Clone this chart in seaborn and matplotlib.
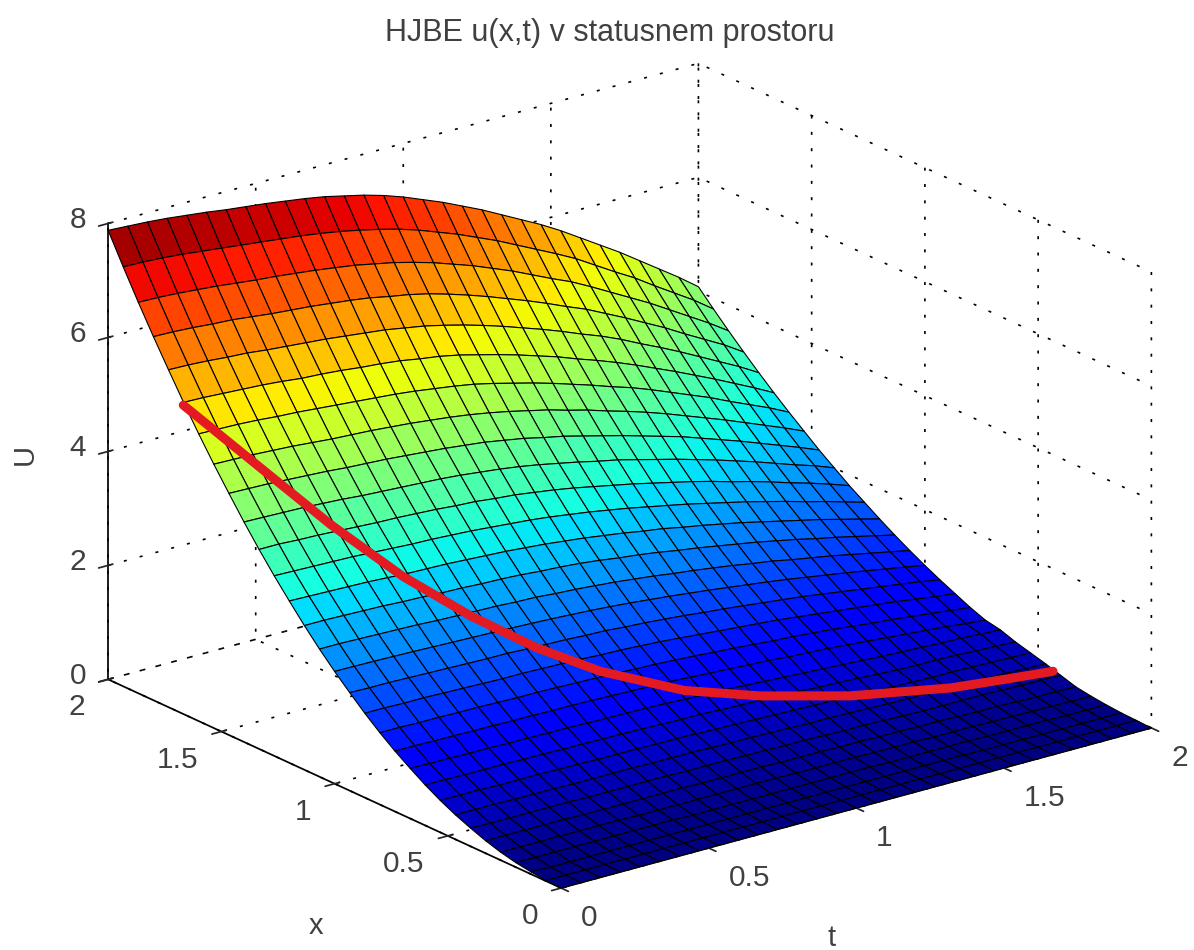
import numpy as np
import matplotlib
matplotlib.use("Agg")
import matplotlib.pyplot as plt
from mpl_toolkits.mplot3d import proj3d
import seaborn as sns

t_values = [j / 15 for j in range(31)]
x_values = [i / 15 for i in range(31)]

# one row per x value, one column per t value
u_values = [
    [0.00] * 31,
    [0.01] * 31,
    [.04,.03,.03,.03,.03,.03,.03,.03,.03,.03,.03,.03,.03,.03,.03,.03,.03,.03,.03,.03,.03,.03,.03,.02,.02,.02,.02,.02,.02,.02,.02],
    [.08,.08,.08,.08,.08,.08,.08,.08,.08,.07,.07,.07,.07,.07,.07,.07,.07,.07,.07,.06,.06,.06,.06,.06,.05,.05,.05,.05,.04,.04,.04],
    [.14,.14,.14,.14,.14,.14,.14,.13,.13,.13,.13,.13,.13,.13,.13,.12,.12,.12,.12,.11,.11,.11,.10,.10,.10,.09,.09,.08,.08,.07,.07],
    [.22,.22,.22,.22,.22,.21,.21,.21,.21,.21,.21,.20,.20,.20,.20,.19,.19,.19,.18,.18,.17,.17,.16,.16,.15,.14,.14,.13,.12,.12,.11],
    [.32,.31,.31,.31,.31,.31,.30,.30,.30,.30,.30,.29,.29,.29,.28,.28,.27,.27,.26,.25,.25,.24,.23,.22,.22,.22,.22,.21,.20,.20,.19],
    [.43,.43,.43,.42,.42,.42,.41,.41,.41,.41,.40,.40,.40,.39,.38,.38,.37,.36,.35,.35,.34,.33,.32,.31,.31,.31,.31,.30,.29,.28,.27],
    [.56,.56,.56,.55,.55,.55,.54,.54,.53,.53,.53,.52,.52,.51,.50,.49,.48,.47,.46,.45,.44,.43,.41,.40,.39,.38,.38,.37,.36,.35,.34],
    [.71,.71,.70,.70,.70,.69,.69,.68,.68,.67,.67,.66,.65,.64,.64,.62,.61,.60,.59,.57,.55,.54,.52,.50,.48,.47,.47,.46,.44,.43,.41],
    [.88,.87,.87,.86,.86,.85,.85,.84,.84,.83,.82,.82,.81,.80,.78,.77,.76,.74,.72,.70,.68,.66,.64,.62,.60,.58,.57,.55,.54,.52,.50],
    [1.06,1.06,1.05,1.05,1.04,1.04,1.03,1.03,1.02,1.02,1.01,1.00,.99,.98,.97,.95,.93,.91,.89,.87,.84,.82,.80,.77,.74,.71,.68,.65,.62,.58,.55],
    [1.26,1.26,1.25,1.25,1.24,1.24,1.23,1.22,1.22,1.21,1.20,1.19,1.18,1.16,1.15,1.13,1.11,1.08,1.06,1.03,1.00,.98,.95,.92,.88,.84,.81,.77,.73,.69,.65],
    [1.48,1.48,1.47,1.47,1.46,1.45,1.44,1.43,1.43,1.42,1.41,1.40,1.38,1.37,1.35,1.33,1.30,1.27,1.24,1.21,1.18,1.15,1.11,1.07,1.03,.99,.95,.91,.86,.81,.77],
    [1.72,1.71,1.71,1.70,1.69,1.68,1.67,1.66,1.66,1.64,1.63,1.62,1.60,1.59,1.56,1.54,1.51,1.48,1.44,1.41,1.37,1.33,1.29,1.25,1.20,1.15,1.10,1.05,1.00,.95,.89],
    [1.97,1.966,1.96,1.952,1.943,1.932,1.92,1.91,1.90,1.888,1.875,1.86,1.84,1.82,1.795,1.765,1.73,1.695,1.655,1.615,1.57,1.525,1.48,1.43,1.375,1.32,1.265,1.205,1.145,1.085,1.02],
    [2.24,2.24,2.23,2.22,2.21,2.20,2.18,2.17,2.16,2.15,2.13,2.12,2.09,2.07,2.04,2.01,1.97,1.93,1.88,1.84,1.79,1.74,1.68,1.63,1.56,1.50,1.44,1.37,1.30,1.23,1.16],
    [2.53,2.53,2.52,2.51,2.50,2.48,2.47,2.45,2.44,2.42,2.41,2.39,2.36,2.34,2.31,2.27,2.22,2.18,2.13,2.07,2.02,1.96,1.90,1.84,1.77,1.70,1.62,1.55,1.47,1.39,1.31],
    [2.84,2.83,2.82,2.81,2.80,2.78,2.76,2.75,2.74,2.72,2.70,2.68,2.65,2.62,2.58,2.54,2.49,2.44,2.38,2.33,2.26,2.20,2.13,2.06,1.98,1.90,1.82,1.74,1.65,1.56,1.47],
    [3.16,3.15,3.14,3.13,3.12,3.10,3.08,3.06,3.05,3.03,3.01,2.98,2.95,2.92,2.88,2.83,2.78,2.72,2.66,2.59,2.52,2.45,2.37,2.29,2.21,2.12,2.03,1.93,1.84,1.74,1.64],
    [3.50,3.50,3.48,3.47,3.45,3.43,3.41,3.40,3.38,3.36,3.33,3.31,3.27,3.24,3.19,3.14,3.08,3.01,2.94,2.87,2.79,2.71,2.63,2.54,2.44,2.35,2.25,2.14,2.04,1.93,1.81],
    [3.86,3.85,3.84,3.83,3.81,3.79,3.76,3.74,3.72,3.70,3.68,3.65,3.61,3.57,3.52,3.46,3.39,3.32,3.24,3.17,3.08,2.99,2.90,2.80,2.70,2.59,2.48,2.36,2.24,2.13,2.00],
    [4.24,4.23,4.22,4.20,4.18,4.16,4.13,4.11,4.09,4.06,4.03,4.00,3.96,3.92,3.86,3.80,3.72,3.65,3.56,3.47,3.38,3.28,3.18,3.08,2.96,2.84,2.72,2.59,2.46,2.33,2.19],
    [4.63,4.62,4.61,4.59,4.57,4.54,4.51,4.49,4.47,4.44,4.41,4.37,4.33,4.28,4.22,4.15,4.07,3.99,3.89,3.80,3.69,3.59,3.48,3.36,3.23,3.10,2.97,2.83,2.69,2.55,2.40],
    [5.04,5.03,5.02,5.00,4.97,4.95,4.92,4.89,4.86,4.83,4.80,4.76,4.71,4.66,4.60,4.52,4.43,4.34,4.24,4.13,4.02,3.90,3.79,3.66,3.52,3.38,3.24,3.08,2.93,2.78,2.61],
    [5.47,5.46,5.44,5.42,5.40,5.37,5.33,5.31,5.28,5.24,5.21,5.17,5.11,5.06,4.99,4.90,4.81,4.71,4.60,4.49,4.36,4.24,4.11,3.97,3.82,3.67,3.51,3.35,3.18,3.01,2.83],
    [5.92,5.91,5.89,5.86,5.84,5.80,5.77,5.74,5.71,5.67,5.63,5.59,5.53,5.47,5.39,5.30,5.20,5.09,4.97,4.85,4.72,4.58,4.45,4.30,4.13,3.97,3.80,3.62,3.44,3.26,3.06],
    [6.38,6.37,6.35,6.32,6.30,6.26,6.22,6.19,6.16,6.12,6.08,6.03,5.96,5.90,5.82,5.72,5.61,5.49,5.36,5.23,5.09,4.94,4.80,4.63,4.46,4.28,4.10,3.90,3.71,3.52,3.30],
    [6.86,6.85,6.83,6.80,6.77,6.73,6.69,6.66,6.62,6.58,6.53,6.48,6.41,6.34,6.25,6.15,6.03,5.91,5.77,5.63,5.47,5.31,5.16,4.98,4.79,4.60,4.41,4.20,3.99,3.78,3.55],
    [7.36,7.35,7.33,7.30,7.26,7.22,7.18,7.14,7.10,7.06,7.01,6.95,6.88,6.80,6.71,6.60,6.47,6.34,6.19,6.04,5.87,5.70,5.53,5.35,5.14,4.93,4.73,4.50,4.28,4.06,3.81],
    [7.88,7.86,7.84,7.81,7.77,7.73,7.68,7.64,7.60,7.55,7.50,7.44,7.36,7.28,7.18,7.06,6.92,6.78,6.62,6.46,6.28,6.10,5.92,5.72,5.50,5.28,5.06,4.82,4.58,4.34,4.08],
]

path_t = [0, 0.13, 0.255, 0.38, 0.505, 0.63, 0.76, 0.95, 1.145, 1.39, 1.68, 1.85, 2]
path_x = [1.668, 1.51, 1.35, 1.195, 1.058, 0.93, 0.817, 0.695, 0.613, 0.535, 0.47, 0.45, 0.434]
path_u = [5.42, 4.47, 3.55, 2.75, 2.13, 1.63, 1.24, 0.86, 0.64, 0.44, 0.29, 0.24, 0.2]

tick_values = [0, 0.5, 1, 1.5, 2]
tick_labels = ['0', '0.5', '1', '1.5', '2']
u_ticks = [0, 2, 4, 6, 8]

sns.set_theme(style="white")
plt.rcParams['font.family'] = ['Liberation Sans', 'DejaVu Sans']
text_color = '#404040'

fig = plt.figure(figsize=(11.94, 9.5), dpi=100)
ax = fig.add_axes([-0.0887, -0.271, 1.2, 1.5], projection='3d', proj_type='ortho', computed_zorder=False)
ax.view_init(elev=20.7, azim=-127.5)
ax.set_box_aspect((1, 1, 0.655), zoom=0.79)

T, X = np.meshgrid(t_values, x_values)
jet = matplotlib.colormaps['jet']
ax.plot_surface(T, X, np.array(u_values), cmap=jet, vmin=0, vmax=7.88, rstride=1, cstride=1,
                shade=False, edgecolor='black', linewidth=0.8, antialiased=True, zorder=1)
ax.plot(path_t, path_x, path_u, color='#e31a22', linewidth=6.5, zorder=5)

ax.set_xlim(0, 2, view_margin=0)
ax.set_ylim(0, 2, view_margin=0)
ax.set_zlim(0, 8, view_margin=0)
ax.set_xticks(tick_values, [''] * 5)
ax.set_yticks(tick_values, [''] * 5)
ax.set_zticks(u_ticks, [''] * 5)
ax.zaxis.set_ticks_position('upper')

for axis in (ax.xaxis, ax.yaxis, ax.zaxis):
    axis.set_pane_color((1, 1, 1, 0))
    axis.pane.set_edgecolor((1, 1, 1, 0))
    axis._axinfo['grid'].update(color='black', linewidth=1.2, linestyle=(0, (1.8, 8)))
    axis.line.set_color('black')

# tick labels sit further off the corners than the 3d axis would put them
proj = ax.get_proj()

def tick_text(t, x, u, label, dx, dy, ha):
    px, py, _ = proj3d.proj_transform(t, x, u, proj)
    ax.annotate(label, (px, py), xytext=(dx, dy), textcoords='offset pixels', annotation_clip=False,
                fontsize=21.5, color=text_color, ha=ha, va='center')

for value, label in zip(tick_values, tick_labels):
    tick_text(value, 0, 0, label, 20, -30, 'left')
    tick_text(0, value, 0, label, -23, -28, 'right')
for value in u_ticks:
    tick_text(0, 2, value, str(value), -22, 3, 'right')

fig.text(610/1194, 1 - 33/950, 'HJBE u(x,t) v statusnem prostoru', fontsize=22, color=text_color, ha='center', va='center')
fig.text(25/1194, 1 - 455/950, 'U', fontsize=21, color=text_color, ha='center', va='center', rotation=90)
fig.text(316/1194, 1 - 926/950, 'x', fontsize=21, color=text_color, ha='center', va='center')
fig.text(832/1194, 1 - 938/950, 't', fontsize=21, color=text_color, ha='center', va='center')

fig.savefig('out.png', dpi=100)
